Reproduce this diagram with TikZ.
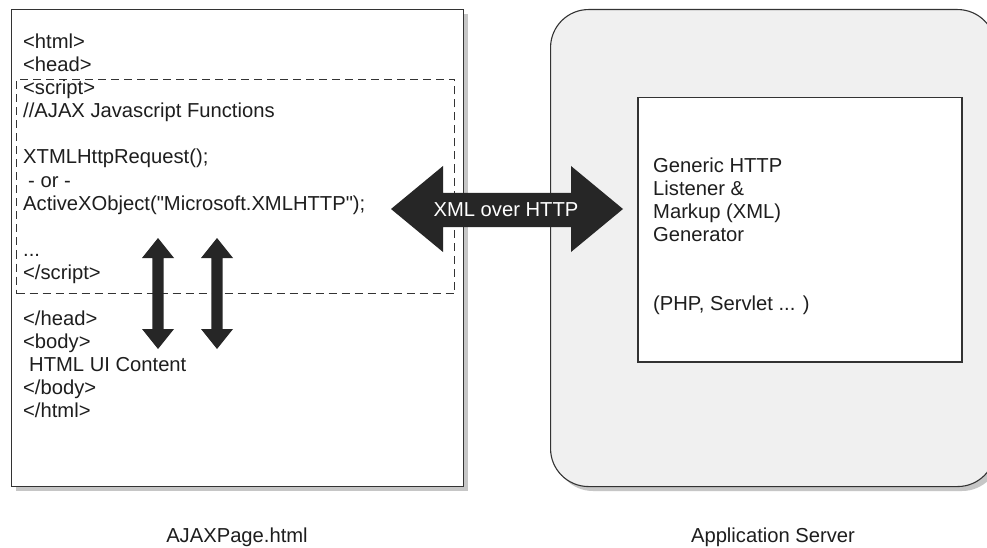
\documentclass[tikz,border=0pt]{standalone}
\usepackage{fontspec}
\setmainfont{Liberation Sans}[Ligatures=TeXOff]
\definecolor{ink}{HTML}{1E1E1E}
\definecolor{arrowdark}{HTML}{262626}
\definecolor{edge}{HTML}{333333}
\definecolor{shade}{HTML}{C6C6C6}
\definecolor{server}{HTML}{F0F0F0}
\begin{document}
\begin{tikzpicture}[x=1pt,y=-1pt,
  txt/.style={anchor=base west,inner sep=0pt,font=\fontsize{20.2}{23}\selectfont,text=ink},
  boxline/.style={draw=edge,line width=1.1pt,inner sep=0pt,anchor=north west},
  shadowfill/.style={fill=shade},
  arrowfill/.style={fill=arrowdark}]
\clip (0,0) rectangle (987,548);
\fill[white] (0,0) rectangle (987,548);
% ---- left page box
\fill[shadowfill] (16,14) rectangle (468,491);
\node[boxline, fill=white, minimum width=452pt, minimum height=477pt] (page) at (11,9) {};
\node[draw=edge, dash pattern=on 8pt off 5pt, line width=1pt, inner sep=0pt, anchor=north west,
      minimum width=438pt, minimum height=214pt] (scriptbox) at (16,79) {};
% ---- text of page
\node[txt] (l1)  at (23,49)  {<html>};
\node[txt] (l2)  at (23,72)  {<head>};
\node[txt] (l3)  at (23,95)  {<script>};
\node[txt] (l4)  at (23,118) {//AJAX Javascript Functions};
\node[txt] (l5)  at (23,164) {XTMLHttpRequest();};
\node[txt] (l6)  at (28,187) {- or -};
\node[txt] (l7)  at (23,210) {ActiveXObject("Microsoft.XMLHTTP");};
\node[txt] (l8)  at (23,256) {...};
\node[txt] (l9)  at (23,279) {</script>};
\node[txt] (l10) at (23,325) {</head>};
\node[txt] (l11) at (23,348) {<body>};
\node[txt] (l12) at (29,371) {HTML UI Content};
\node[txt] (l13) at (23,394) {</body>};
\node[txt] (l14) at (23,417) {</html>};
% ---- server box
\fill[shadowfill, rounded corners=38pt] (555,14) rectangle (1000,491);
\node[boxline, fill=server, rounded corners=38pt, minimum width=445pt, minimum height=477pt] (srv) at (550,9) {};
\node[draw=edge, line width=1.5pt, fill=white, inner sep=0pt, anchor=north west,
      minimum width=324pt, minimum height=264pt] (gen) at (637,97) {};
\node[txt] (g1) at (653,172) {Generic HTTP};
\node[txt] (g2) at (653,195) {Listener \&};
\node[txt] (g3) at (653,218) {Markup (XML)};
\node[txt] (g4) at (653,241) {Generator};
\node[txt] (g5) at (653,310) {(PHP, Servlet ... )};
% ---- big double arrow
\fill[arrowfill] (391,209) -- (443,166) -- (443,193) -- (571,193) -- (571,166) -- (623,209)
   -- (571,252) -- (571,227) -- (443,227) -- (443,252) -- cycle;
\node[txt, anchor=base, text=white] (xml) at (506,216) {XML over HTTP};
% ---- vertical double arrows
\foreach \c in {158,217}{
  \fill[arrowfill] (\c,238) -- (\c+16,258) -- (\c+5.7,258) -- (\c+5.7,329) -- (\c+16,329) -- (\c,349)
     -- (\c-16,329) -- (\c-5.7,329) -- (\c-5.7,258) -- (\c-16,258) -- cycle;
}
% ---- labels
\node[txt, anchor=base] (lblpage) at (237,542) {AJAXPage.html};
\node[txt, anchor=base] (lblsrv) at (773,542) {Application Server};
\end{tikzpicture}
\end{document}
